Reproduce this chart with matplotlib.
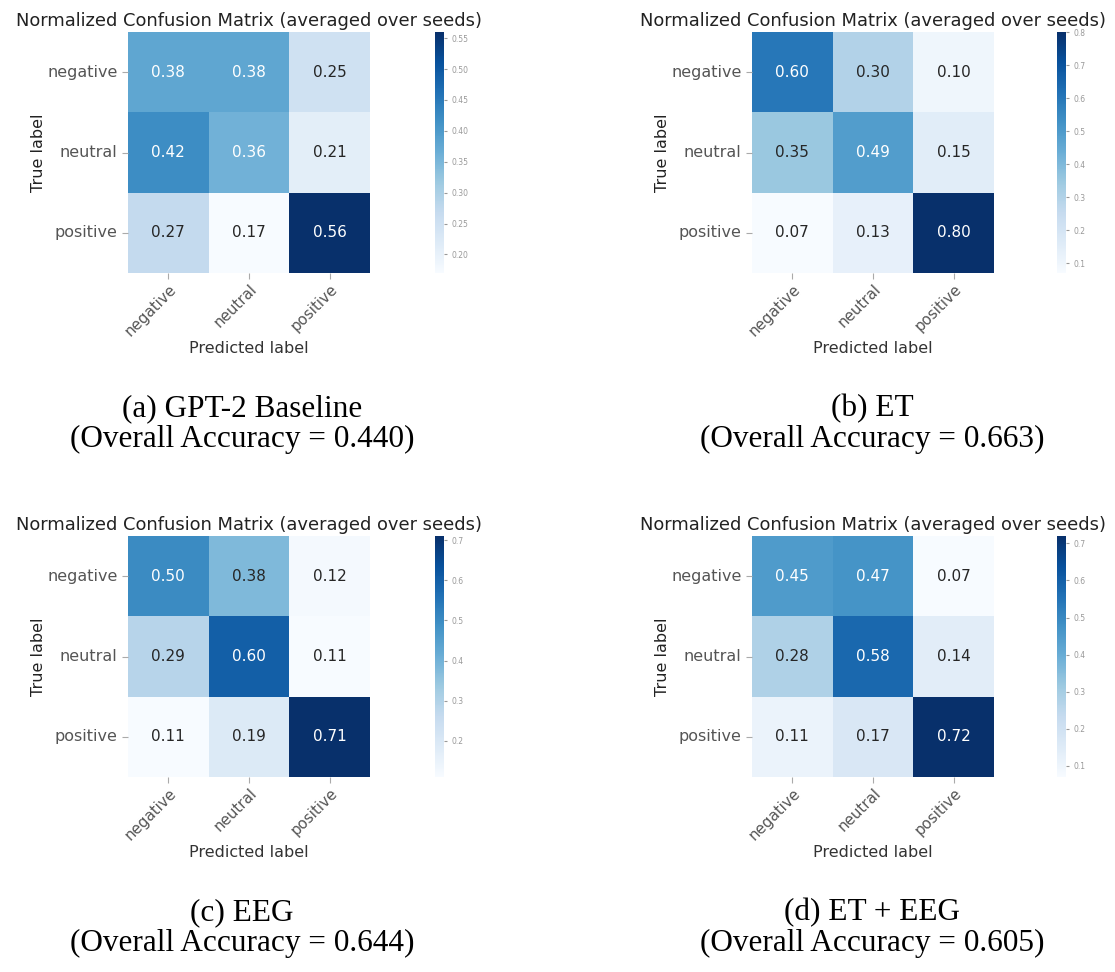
import numpy as np
import matplotlib
matplotlib.use("Agg")
import matplotlib.pyplot as plt
import seaborn as sns

labels = ["negative", "neutral", "positive"]

cm_gpt2 = [[0.38, 0.38, 0.25],
           [0.42, 0.36, 0.21],
           [0.27, 0.17, 0.56]]
cm_et = [[0.60, 0.30, 0.10],
         [0.35, 0.49, 0.15],
         [0.07, 0.13, 0.80]]
cm_eeg = [[0.50, 0.38, 0.12],
          [0.29, 0.60, 0.11],
          [0.11, 0.19, 0.71]]
cm_et_eeg = [[0.45, 0.47, 0.07],
             [0.28, 0.58, 0.14],
             [0.11, 0.17, 0.72]]

captions = ["(a) GPT-2 Baseline", "(b) ET", "(c) EEG", "(d) ET + EEG"]
accuracies = [0.440, 0.663, 0.644, 0.605]

W, H = 1115, 972
fig = plt.figure(figsize=(W / 100, H / 100), dpi=100)


def px_box(x0, y0, x1, y1):
    # pixel box (top-left origin) -> figure fraction rect
    return [x0 / W, 1 - y1 / H, (x1 - x0) / W, (y1 - y0) / H]


panels = [
    (cm_gpt2, 128, 32, 435, 242),
    (cm_et, 752, 32, 1057, 872),
    (cm_eeg, 128, 536, 435, 242),
    (cm_et_eeg, 752, 536, 1057, 872),
]

for i, (cm, hx, hy, cx, capx) in enumerate(panels):
    ax = fig.add_axes(px_box(hx, hy, hx + 242, hy + 241))
    cax = fig.add_axes(px_box(cx, hy, cx + 9, hy + 241))
    sns.heatmap(np.array(cm), annot=True, fmt=".2f", cmap="Blues",
                xticklabels=labels, yticklabels=labels, ax=ax, cbar_ax=cax,
                annot_kws={"fontsize": 11})
    ax.set_title("Normalized Confusion Matrix (averaged over seeds)",
                 fontsize=12.9, color="#222222", pad=4)
    ax.set_xlabel("Predicted label", fontsize=11.5, color="#333333", labelpad=2)
    ax.set_ylabel("True label", fontsize=11.5, color="#222222", labelpad=1)
    ax.set_xticklabels(labels, rotation=45, ha="right", rotation_mode="anchor",
                       fontsize=10.8, color="#555555")
    ax.set_yticklabels(labels, rotation=0, fontsize=11.5, color="#555555")
    ax.tick_params(length=4, color="#aaaaaa")
    ax.tick_params(axis="x", pad=2)
    cax.tick_params(labelsize=5.5, colors="#999999", length=2)

    ybase = 409 if i < 2 else 913
    fig.text(capx / W, 1 - ybase / H, captions[i], ha="center", va="center",
             fontsize=22.5, family="Liberation Serif", color="black")
    fig.text(capx / W, 1 - (ybase + 30) / H,
             f"(Overall Accuracy = {accuracies[i]:.3f})", ha="center",
             va="center", fontsize=22.5, family="Liberation Serif", color="black")

fig.savefig("out.png", dpi=100)
